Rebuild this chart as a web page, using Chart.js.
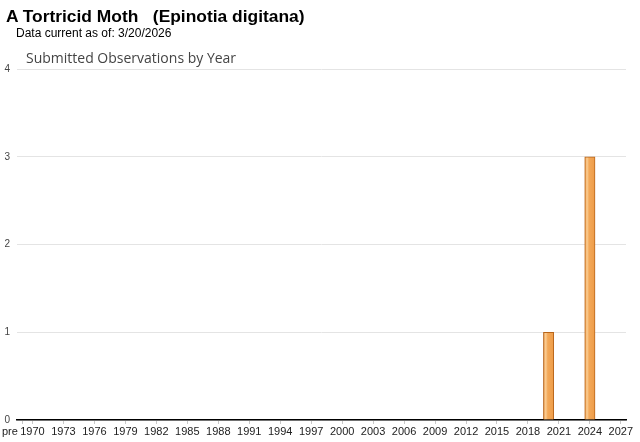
<!DOCTYPE html>
<html>
<head>
<meta charset="utf-8">
<script src="https://cdn.jsdelivr.net/npm/chart.js@4.4.1/dist/chart.umd.min.js"></script>
<style>
  html, body { margin: 0; padding: 0; background: #fff; }
  #wrap { position: relative; width: 640px; height: 442px; overflow: hidden; }
  #c { position: absolute; left: 0; top: 0; }
  .t { position: absolute; white-space: pre; line-height: 1; }
  #title { left: 6px; top: 6px; font: bold 17.4px "Liberation Sans", Arial, sans-serif; color: #000; }
  #sub { left: 16px; top: 26px; font: 12px "Liberation Sans", Arial, sans-serif; color: #000; }
  #ctitle { left: 26px; top: 48px; font: 14px "Open Sans", sans-serif; color: #444; }
</style>
</head>
<body>
<div id="wrap">
  <canvas id="c" width="640" height="442"></canvas>
  <div class="t" id="title">A Tortricid Moth   (Epinotia digitana)</div>
  <div class="t" id="sub">Data current as of: 3/20/2026</div>
  <div class="t" id="ctitle">Submitted Observations by Year</div>
</div>
<script>
// Categories: "pre" then each year 1970..2027
const categories = ["pre","1970","1971","1972","1973","1974","1975","1976","1977","1978","1979",
  "1980","1981","1982","1983","1984","1985","1986","1987","1988","1989",
  "1990","1991","1992","1993","1994","1995","1996","1997","1998","1999",
  "2000","2001","2002","2003","2004","2005","2006","2007","2008","2009",
  "2010","2011","2012","2013","2014","2015","2016","2017","2018","2019",
  "2020","2021","2022","2023","2024","2025","2026","2027"];
// Observations per category (only 2020 and 2024 have records)
const observations = [0,0,0,0,0,0,0,0,0,0,0,
  0,0,0,0,0,0,0,0,0,0,
  0,0,0,0,0,0,0,0,0,0,
  0,0,0,0,0,0,0,0,0,0,
  0,0,0,0,0,0,0,0,0,0,
  1,0,0,0,3,0,0,0];
// Tick labels shown on the x axis
const tickLabels = ["pre","1970","1973","1976","1979","1982","1985","1988","1991","1994","1997",
  "2000","2003","2006","2009","2012","2015","2018","2021","2024","2027"];
const yTicks = [0,1,2,3,4];

function barFill(ctx) {
  const chart = ctx.chart;
  const xs = chart.scales && chart.scales.x;
  if (!xs || ctx.dataIndex === undefined) return '#f0a050';
  const cx = xs.getPixelForValue(ctx.dataIndex);
  if (!isFinite(cx)) return '#f0a050';
  const half = 5.2;
  const g = chart.ctx.createLinearGradient(cx - half, 0, cx + half, 0);
  g.addColorStop(0, '#e8923c');
  g.addColorStop(0.22, '#fbcf96');
  g.addColorStop(0.42, '#f3a858');
  g.addColorStop(1, '#ee9c48');
  return g;
}

new Chart(document.getElementById('c'), {
  type: 'bar',
  data: {
    labels: categories,
    datasets: [{
      data: observations,
      backgroundColor: barFill,
      borderColor: '#b8651a',
      borderWidth: 1,
      barPercentage: 1,
      categoryPercentage: 1
    }]
  },
  options: {
    responsive: false,
    animation: false,
    devicePixelRatio: 1,
    layout: { padding: { left: 0, right: 14, top: 69, bottom: 0 } },
    plugins: { legend: { display: false }, tooltip: { enabled: false }, title: { display: false } },
    scales: {
      x: {
        offset: true,
        grid: { display: true, drawOnChartArea: false, drawTicks: true, tickLength: 4, color: '#c8c8c8', offset: false },
        border: { display: true, color: '#000', width: 1.5 },
        afterBuildTicks: (axis) => {
          axis.ticks = axis.ticks.filter(t => tickLabels.includes(categories[t.value]));
        },
        afterFit: (axis) => { axis.height = 22; },
        ticks: {
          autoSkip: false,
          maxRotation: 0,
          padding: 1,
          color: '#222',
          font: { family: '"Liberation Sans", Arial, sans-serif', size: 11 },
          callback: function(value) {
            const lab = categories[value];
            if (lab === 'pre') return 'pre\u00a0\u00a0\u00a0\u00a0\u00a0\u00a0\u00a0\u00a0';
            return lab;
          }
        }
      },
      y: {
        min: 0, max: 4,
        afterBuildTicks: (axis) => { axis.ticks = yTicks.map(v => ({ value: v })); },
        afterFit: (axis) => { axis.width = 17; },
        grid: { color: '#e4e4e4', drawTicks: false },
        border: { display: false },
        ticks: {
          padding: 7,
          color: '#444',
          font: { family: '"Liberation Sans", Arial, sans-serif', size: 10 }
        }
      }
    }
  }
});
</script>
</body>
</html>
